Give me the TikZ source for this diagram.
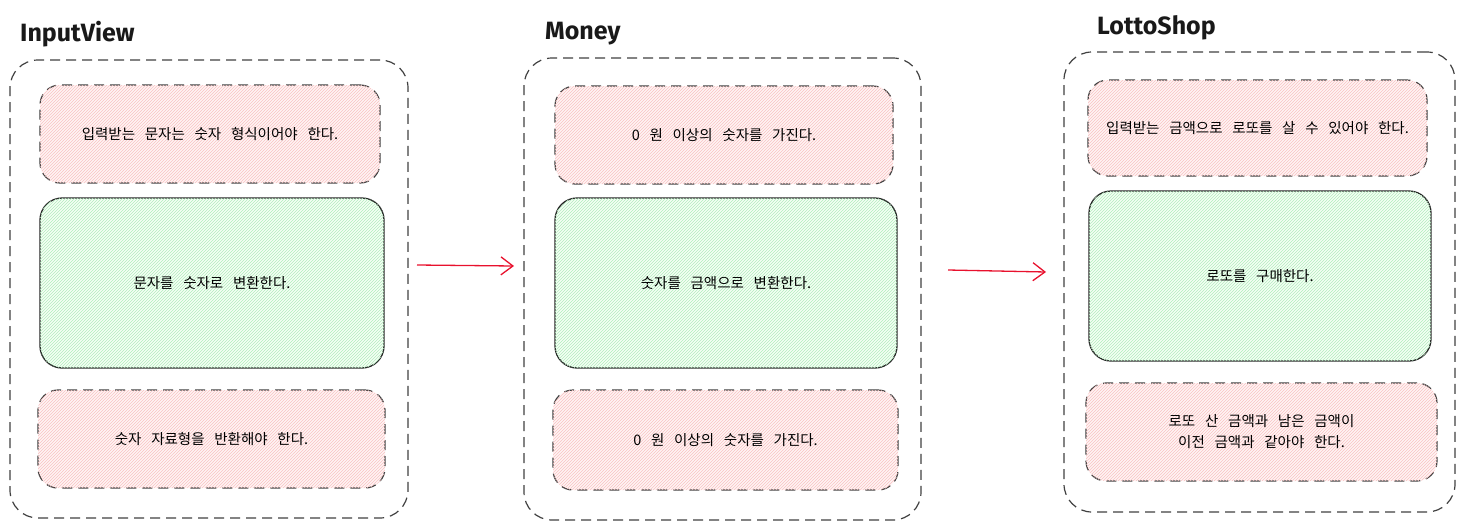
\documentclass[tikz,border=0pt]{standalone}
\usepackage{fontspec}
\setmainfont{Noto Sans CJK KR}[WordSpace=3]
\newfontfamily\titlefont{Fira Sans}
\usetikzlibrary{patterns,arrows.meta}
\definecolor{hatchred}{HTML}{F9C2C2}
\definecolor{hatchgreen}{HTML}{B2ECBE}
\definecolor{arrowred}{HTML}{E8112D}
\tikzset{
  outerbox/.style={draw=black!75, line width=1.2pt, dash pattern=on 10pt off 6pt, rounded corners=28pt, inner sep=0pt},
  redbox/.style={draw=black!75, line width=1.2pt, dash pattern=on 10pt off 6pt, rounded corners=20pt, fill=red!4, postaction={pattern=north east lines, pattern color=hatchred}, align=center, font=\fontsize{14.5}{21}\selectfont, inner sep=0pt},
  greenbox/.style={draw=black!85, line width=1.3pt, rounded corners=22pt, fill=green!4, postaction={pattern=north east lines, pattern color=hatchgreen}, align=center, font=\fontsize{14.5}{21}\selectfont, inner sep=0pt},
  titletext/.style={anchor=base west, font=\titlefont\bfseries\fontsize{25}{28}\selectfont, text=black!90, inner sep=0pt},
  flow/.style={draw=arrowred, line width=1.3pt, -{Straight Barb[length=12pt,width=18pt]}}
}
\begin{document}
\begin{tikzpicture}[x=1pt,y=-1pt]
\useasboundingbox (0,0) rectangle (1465,528);
% column 1
\node[outerbox, minimum width=398pt, minimum height=458pt] (c1) at (209,289) {};
\node[redbox, minimum width=340pt, minimum height=98pt] (c1a) at (210,134) {입력받는 문자는 숫자 형식이어야 한다.};
\node[greenbox, minimum width=344pt, minimum height=170pt] (c1b) at (212,283) {문자를 숫자로 변환한다.};
\node[redbox, minimum width=347pt, minimum height=98pt] (c1c) at (211.5,439) {숫자 자료형을 반환해야 한다.};
\node[titletext] (t1) at (20,41) {InputView};
% column 2
\node[outerbox, minimum width=397pt, minimum height=462pt] (c2) at (722.5,289) {};
\node[redbox, minimum width=338pt, minimum height=98pt] (c2a) at (724,135) {0 원 이상의 숫자를 가진다.};
\node[greenbox, minimum width=342pt, minimum height=170pt] (c2b) at (726,283) {숫자를 금액으로 변환한다.};
\node[redbox, minimum width=345pt, minimum height=100pt] (c2c) at (725.5,440) {0 원 이상의 숫자를 가진다.};
\node[titletext] (t2) at (545,39) {Money};
% column 3
\node[outerbox, minimum width=391pt, minimum height=460pt] (c3) at (1259.5,282) {};
\node[redbox, minimum width=339pt, minimum height=96pt] (c3a) at (1257.5,128) {입력받는 금액으로 로또를 살 수 있어야 한다.};
\node[greenbox, minimum width=342pt, minimum height=170pt] (c3b) at (1260,276) {로또를 구매한다.};
\node[redbox, minimum width=351pt, minimum height=98pt] (c3c) at (1261.5,432) {로또 산 금액과 남은 금액이\\이전 금액과 같아야 한다.};
\node[titletext] (t3) at (1097,34) {LottoShop};
% arrows
\coordinate (a1s) at (417,265);
\coordinate (a1e) at (514,266);
\coordinate (a2s) at (948,270);
\coordinate (a2e) at (1046,272);
\draw[flow] (a1s) -- (a1e);
\draw[flow] (a2s) -- (a2e);
\end{tikzpicture}
\end{document}
